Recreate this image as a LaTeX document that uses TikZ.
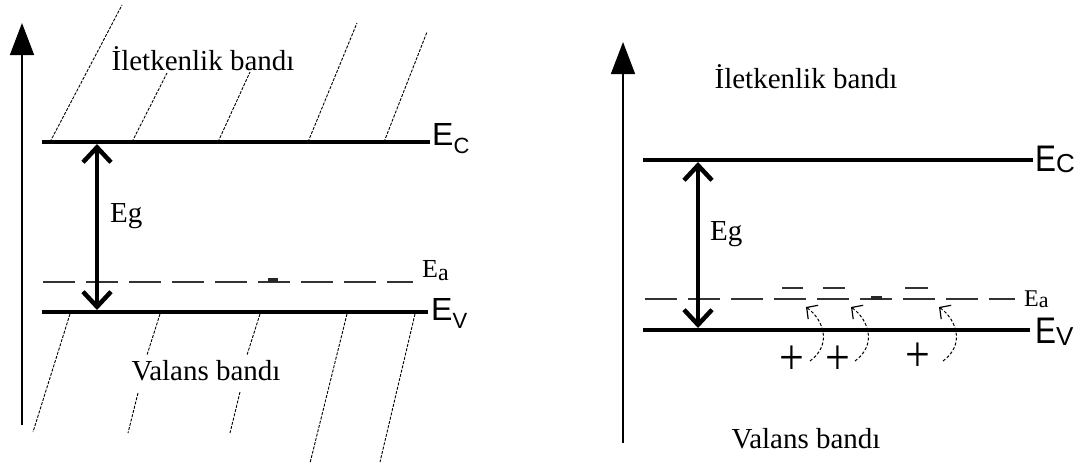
\documentclass[tikz,border=0pt]{standalone}
\usepackage{fontspec}
\setmainfont{Liberation Serif}
\setsansfont{Liberation Sans}
\usetikzlibrary{arrows.meta}
\begin{document}
\begin{tikzpicture}[x=1pt,y=-1pt,
  level/.style={line width=4pt},
  hatch/.style={line width=0.9pt, dash pattern=on 3pt off 1.4pt},
  acc/.style={line width=2pt, dash pattern=on 32pt off 11pt, black!80},
  axisline/.style={line width=1.5pt, -{Triangle[length=32pt,width=24pt]}},
  gaparrow/.style={line width=4.5pt, {Straight Barb[length=15pt,width=28pt]}-{Straight Barb[length=15pt,width=28pt]}},
  hop/.style={line width=1pt, dash pattern=on 3pt off 2pt, -{Straight Barb[length=8pt,width=17pt,line width=1.2pt]}},
  bar/.style={line width=2pt, black!80},
  bit/.style={line width=3.5pt, black!85},
  band/.style={inner sep=0pt, font=\fontsize{29}{29}\selectfont},
  eg/.style={inner sep=0pt, anchor=base west, font=\fontsize{29}{29}\selectfont},
  elbl/.style={inner sep=0pt, anchor=base west},
  plus/.style={inner sep=0pt, font=\fontsize{44}{44}\selectfont}
]
\useasboundingbox (0,0) rectangle (1083,467);

% ---------------- left diagram ----------------
\coordinate (axL0) at (22,425);
\coordinate (axL1) at (22,23);
\draw[axisline] (axL0) -- (axL1);

\coordinate (ecL0) at (42,142);  \coordinate (ecL1) at (430,142);
\coordinate (evL0) at (42,312);  \coordinate (evL1) at (428,312);
\coordinate (eaL0) at (43,282);  \coordinate (eaL1) at (413,282);
\draw[level] (ecL0) -- (ecL1);
\draw[level] (evL0) -- (evL1);
\draw[acc] (eaL0) -- (eaL1);
\coordinate (bitL0) at (268,280); \coordinate (bitL1) at (278,280);
\draw[bit] (bitL0) -- (bitL1);

\coordinate (gL0) at (97,144); \coordinate (gL1) at (97,310);
\draw[gaparrow] (gL0) -- (gL1);

% hatching above E_C
\coordinate (ha1a) at (50,142);  \coordinate (ha1b) at (122,5);
\coordinate (ha2a) at (132,142); \coordinate (ha2b) at (167,73);
\coordinate (ha3a) at (218,142); \coordinate (ha3b) at (250,72);
\coordinate (ha4a) at (308,142); \coordinate (ha4b) at (357,23);
\coordinate (ha5a) at (384,142); \coordinate (ha5b) at (427,32);
\draw[hatch] (ha1a) -- (ha1b);
\draw[hatch] (ha2a) -- (ha2b);
\draw[hatch] (ha3a) -- (ha3b);
\draw[hatch] (ha4a) -- (ha4b);
\draw[hatch] (ha5a) -- (ha5b);

% hatching below E_V
\coordinate (hb1a) at (70,314);  \coordinate (hb1b) at (33,432);
\coordinate (hb2a) at (160,314); \coordinate (hb2b) at (147,355);
\coordinate (hb2c) at (138,393); \coordinate (hb2d) at (128,433);
\coordinate (hb3a) at (260,314); \coordinate (hb3b) at (247,355);
\coordinate (hb3c) at (240,392); \coordinate (hb3d) at (230,433);
\coordinate (hb4a) at (347,314); \coordinate (hb4b) at (310,463);
\coordinate (hb5a) at (415,314); \coordinate (hb5b) at (380,462);
\draw[hatch] (hb1a) -- (hb1b);
\draw[hatch] (hb2a) -- (hb2b);
\draw[hatch] (hb2c) -- (hb2d);
\draw[hatch] (hb3a) -- (hb3b);
\draw[hatch] (hb3c) -- (hb3d);
\draw[hatch] (hb4a) -- (hb4b);
\draw[hatch] (hb5a) -- (hb5b);

\node[band, anchor=base] (condL) at (203,70) {İletkenlik bandı};
\node[band, anchor=base] (valL) at (206,380) {Valans bandı};
\node[eg] (egL) at (110,222) {Eg};
\node[elbl] (eaLlbl) at (422,277) {\fontsize{26}{26}\selectfont E\fontsize{24}{24}\selectfont\raisebox{-3pt}{a}};
\node[elbl] (ecLlbl) at (432,145) {\sffamily\fontsize{32}{32}\selectfont E\fontsize{22}{22}\selectfont\raisebox{-8pt}{C}};
\node[elbl] (evLlbl) at (431,320) {\sffamily\fontsize{32}{32}\selectfont E\fontsize{22}{22}\selectfont\raisebox{-8pt}{V}};

% ---------------- right diagram ----------------
\coordinate (axR0) at (623,443);
\coordinate (axR1) at (623,42);
\draw[axisline] (axR0) -- (axR1);

\coordinate (ecR0) at (643,160);  \coordinate (ecR1) at (1033,160);
\coordinate (evR0) at (643,330);  \coordinate (evR1) at (1030,330);
\coordinate (eaR0) at (645,299);  \coordinate (eaR1) at (1015,299);
\draw[level] (ecR0) -- (ecR1);
\draw[level] (evR0) -- (evR1);
\draw[acc] (eaR0) -- (eaR1);
\coordinate (bitR0) at (871,298); \coordinate (bitR1) at (882,298);
\draw[bit] (bitR0) -- (bitR1);

\coordinate (gR0) at (698,162); \coordinate (gR1) at (698,328);
\draw[gaparrow] (gR0) -- (gR1);

% ionized acceptors
\coordinate (m1a) at (782,288); \coordinate (m1b) at (803,288);
\coordinate (m2a) at (823,288); \coordinate (m2b) at (845,288);
\coordinate (m3a) at (905,288); \coordinate (m3b) at (928,288);
\draw[bar] (m1a) -- (m1b);
\draw[bar] (m2a) -- (m2b);
\draw[bar] (m3a) -- (m3b);

% electron hops
\coordinate (s1) at (810,361); \coordinate (t1) at (806,307);
\coordinate (s2) at (855,361); \coordinate (t2) at (851,307);
\coordinate (s3) at (943,361); \coordinate (t3) at (939,307);
\draw[hop] (s1) .. controls (832,345) and (824,320) .. (t1);
\draw[hop] (s2) .. controls (877,345) and (869,320) .. (t2);
\draw[hop] (s3) .. controls (965,345) and (957,320) .. (t3);

\node[plus] (p1) at (792,360) {\scalebox{1}[1.15]{+}};
\node[plus] (p2) at (838,360) {\scalebox{1}[1.15]{+}};
\node[plus] (p3) at (918,357) {\scalebox{1}[1.15]{+}};

\node[band, anchor=base] (condR) at (806,88) {İletkenlik bandı};
\node[band, anchor=base] (valR) at (806,448) {Valans bandı};
\node[eg] (egR) at (710,240) {Eg};
\node[elbl] (eaRlbl) at (1024,306) {\fontsize{24}{24}\selectfont E\fontsize{22}{22}\selectfont\raisebox{-1pt}{a}};
\node[elbl] (ecRlbl) at (1035,171) {\sffamily\fontsize{37}{37}\selectfont\scalebox{0.85}[1]{E}\fontsize{26}{26}\selectfont\raisebox{-1pt}{C}};
\node[elbl] (evRlbl) at (1035,343) {\sffamily\fontsize{37}{37}\selectfont\scalebox{0.85}[1]{E}\fontsize{26}{26}\selectfont\raisebox{-2pt}{V}};
\end{tikzpicture}
\end{document}
